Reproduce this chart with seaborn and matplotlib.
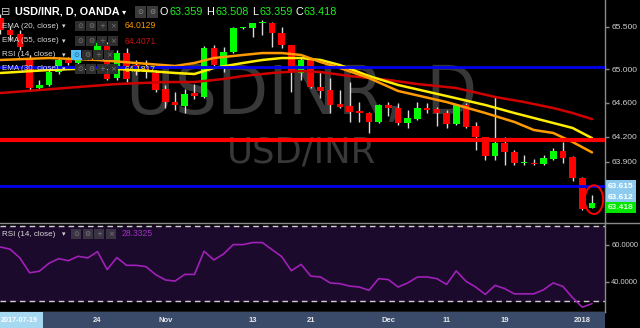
import numpy as np
import pandas as pd
import matplotlib
matplotlib.use("Agg")
import matplotlib.pyplot as plt
import matplotlib.transforms as mtransforms
from matplotlib.patches import Ellipse, Rectangle
from matplotlib.lines import Line2D
import seaborn as sns

# ---------------- data ----------------
opens = [65.604, 65.462, 65.414, 65.130, 64.775, 64.811, 64.964, 65.107, 65.071, 65.166,
         65.142, 65.296, 64.893, 65.189, 65.047, 65.012, 64.953, 64.763, 64.609, 64.562,
         64.716, 64.669, 65.249, 65.024, 65.201, 65.485, 65.485, 65.540, 65.544, 65.426,
         65.284, 64.953, 65.107, 64.787, 64.751, 64.586, 64.562, 64.503, 64.479, 64.373,
         64.574, 64.538, 64.361, 64.408, 64.538, 64.527, 64.479, 64.349, 64.574, 64.325,
         64.195, 63.970, 64.124, 64.018, 63.886, 63.888, 63.876, 63.935, 64.030, 63.959,
         63.710, 63.359]
highs = [65.651, 65.509, 65.462, 65.166, 64.870, 64.988, 65.142, 65.142, 65.225, 65.225,
         65.343, 65.320, 65.225, 65.249, 65.107, 65.107, 64.988, 64.811, 64.728, 64.763,
         64.822, 65.272, 65.284, 65.260, 65.497, 65.497, 65.550, 65.580, 65.556, 65.497,
         65.290, 65.142, 65.130, 64.964, 64.893, 64.751, 64.846, 64.609, 64.491, 64.586,
         64.609, 64.598, 64.515, 64.609, 64.598, 64.550, 64.515, 64.586, 64.598, 64.373,
         64.200, 64.680, 64.195, 64.041, 63.982, 63.935, 63.982, 64.065, 64.136, 63.970,
         63.722, 63.508]
lows = [65.414, 65.343, 65.225, 64.751, 64.763, 64.799, 64.941, 65.047, 65.047, 65.107,
        65.107, 64.870, 64.870, 64.846, 64.929, 64.893, 64.728, 64.538, 64.515, 64.479,
        64.645, 64.657, 65.024, 64.964, 65.189, 65.473, 65.379, 65.402, 65.260, 65.249,
        64.728, 64.870, 64.775, 64.657, 64.479, 64.538, 64.373, 64.373, 64.243, 64.361,
        64.444, 64.337, 64.302, 64.396, 64.479, 64.325, 64.302, 64.337, 64.302, 64.041,
        63.923, 63.923, 63.864, 63.864, 63.864, 63.864, 63.864, 63.923, 63.888, 63.675,
        63.331, 63.359]
closes = [65.462, 65.402, 65.260, 64.775, 64.811, 64.964, 65.107, 65.071, 65.166, 65.142,
          65.308, 64.882, 65.189, 64.882, 64.988, 64.964, 64.751, 64.609, 64.574, 64.704,
          64.680, 65.249, 65.047, 65.201, 65.485, 65.490, 65.544, 65.546, 65.426, 65.284,
          64.964, 65.107, 64.787, 64.740, 64.574, 64.550, 64.491, 64.479, 64.373, 64.574,
          64.538, 64.361, 64.420, 64.538, 64.515, 64.479, 64.349, 64.574, 64.314, 64.195,
          63.970, 64.124, 64.018, 63.888, 63.890, 63.876, 63.947, 64.030, 63.947, 63.710,
          63.343, 63.418]

ema_idx = [0, 5, 10, 14, 18, 20, 22, 25, 27, 29, 31, 33, 35, 38, 41, 46, 50, 53, 55, 57, 59, 61]
ema20_val = [65.107, 65.130, 65.107, 65.071, 65.036, 65.071, 65.130, 65.166, 65.189, 65.189,
             65.166, 65.083, 65.012, 64.893, 64.740, 64.609, 64.479, 64.373, 64.278, 64.243,
             64.136, 64.013]
ema30_val = [64.953, 64.988, 65.012, 64.988, 64.953, 64.941, 65.012, 65.071, 65.107, 65.130,
             65.130, 65.107, 65.047, 64.917, 64.811, 64.680, 64.574, 64.479, 64.420, 64.361,
             64.302, 64.182]
ema55_idx = [0, 4, 8, 12, 17, 20, 23, 25, 28, 31, 33, 36, 40, 43, 47, 51, 54, 57, 59, 61]
ema55_val = [64.716, 64.751, 64.787, 64.822, 64.846, 64.846, 64.882, 64.917, 64.953, 64.976,
             64.964, 64.917, 64.870, 64.822, 64.775, 64.669, 64.609, 64.538, 64.479, 64.407]
ema_labels = ["64.0129", "64.4071", "64.1817"]

rsi = [58.9, 57.7, 53.0, 45.0, 45.8, 50.1, 52.6, 51.5, 53.9, 53.0,
       56.4, 46.7, 53.2, 49.0, 49.0, 48.3, 44.0, 41.1, 40.5, 44.1,
       44.1, 56.6, 51.9, 55.1, 60.2, 60.2, 61.3, 61.3, 57.5, 53.7,
       46.1, 49.5, 43.2, 42.7, 39.5, 39.1, 37.8, 37.3, 35.5, 41.8,
       41.3, 37.3, 39.5, 42.7, 42.7, 41.8, 38.7, 46.0, 40.4, 37.3,
       33.3, 38.2, 36.4, 33.6, 33.6, 33.6, 35.8, 39.5, 37.6, 31.5,
       26.4, 28.3]
rsi_label = "28.3325"

blue_levels = [65.024, 63.615]
red_level = 64.155
price_ticks = [65.5, 65.0, 64.6, 64.2, 63.9]
rsi_ticks = [60, 40]
date_labels = ["24", "Nov", "13", "21", "Dec", "11", "19", "2018"]
date_idx = [10, 17, 26, 32, 40, 46, 52, 60]
first_date = "2017-07-19"

# ---------------- style ----------------
sns.set_theme(style="dark", rc={"axes.facecolor": "black", "figure.facecolor": "black",
                                "axes.grid": False})
plt.rcParams['font.family'] = ['Liberation Sans', 'DejaVu Sans']

W, H = 640, 328
fig = plt.figure(figsize=(6.4, 3.28), dpi=100, facecolor='black')

def fx(px):
    return px / W

def fy(py):
    return 1 - py / H

ax = fig.add_axes([0, fy(222), fx(605), 222 / H])
ax_r = fig.add_axes([0, fy(312), fx(605), 90 / H], sharex=ax)
ax_d = fig.add_axes([0, 0, fx(605), 16 / H], sharex=ax)
for a in (ax, ax_r, ax_d):
    a.set_facecolor('black')

x = np.arange(len(opens))
o = np.array(opens)
c = np.array(closes)
up = c >= o
body_colors = np.where(up, '#00ff00', '#ff0000')

# watermark
ax.text(0.498, 0.486, "USDINR, D", transform=ax.transAxes, ha='center', va='baseline',
        fontsize=48, color='#383838', family='DejaVu Sans', zorder=0)
ax.text(0.498, 0.266, "USD/INR", transform=ax.transAxes, ha='center', va='baseline',
        fontsize=25.5, color='#383838', family='DejaVu Sans', zorder=0)

# candles
ax.vlines(x, lows, highs, color='#d9d9d9', lw=1, zorder=3)
ax.bar(x, np.maximum(np.abs(c - o), 0.012), bottom=np.minimum(o, c), width=0.68,
       color=body_colors, linewidth=0, zorder=4)

# EMAs
sns.lineplot(x=ema55_idx, y=ema55_val, ax=ax, color='#d00000', lw=1.8, zorder=5, legend=False)
sns.lineplot(x=ema_idx, y=ema30_val, ax=ax, color='#ffee00', lw=1.8, zorder=5, legend=False)
sns.lineplot(x=ema_idx, y=ema20_val, ax=ax, color='#ff9a00', lw=1.8, zorder=5, legend=False)

# horizontal levels
for lv in blue_levels:
    ax.axhline(lv, color='#0000ee', lw=2, zorder=6)
ax.axhline(red_level, color='#ff0000', lw=3, zorder=6)

# highlight ellipse round the last candle
ax.add_patch(Ellipse((x[-1] + 0.2, (highs[-1] + lows[-1]) / 2 + 0.02), 1.9, 0.34,
                     fill=False, ec='#ff0000', lw=1.4, zorder=7))

ax.set_xlim(-0.05, 62.34)
ax.set_ylim(63.189, 65.817)
ax.set_xlabel('')
ax.set_ylabel('')
ax.yaxis.tick_right()
ax.set_yticks(price_ticks)
ax.set_yticklabels([f"{v:.3f}" for v in price_ticks])
ax.tick_params(axis='y', right=True, left=False, colors='#8a8a8a', labelcolor='#d0d0d0',
               labelsize=6, length=3, width=1, pad=2)
ax.tick_params(axis='x', bottom=False, labelbottom=False)
for s in ['left', 'top', 'bottom']:
    ax.spines[s].set_visible(False)
ax.spines['right'].set_color('#8a8a8a')
ax.spines['right'].set_linewidth(1)

# price tags on the axis
trans = mtransforms.blended_transform_factory(ax.transAxes, ax.transData)

def price_tag(val, dy, text, fc, tc):
    ax.annotate(text, xy=(1.0, val), xycoords=trans, xytext=(3, dy), textcoords='offset pixels',
                fontsize=6, color=tc, ha='left', va='center', fontweight='bold',
                bbox=dict(boxstyle='square,pad=0.28', fc=fc, ec='none'),
                annotation_clip=False, zorder=10)

price_tag(63.615, 0, "63.615", '#8ccaf0', 'white')
price_tag(63.612, -11, "63.612", '#8ccaf0', 'white')
price_tag(closes[-1], -5, f"{closes[-1]:.3f}", '#00e600', '#d8ffd8')

# ---------------- RSI pane ----------------
ax_r.axhspan(30, 70, color='#1c0a2c', zorder=0)
ax_r.axhline(70, color='#cfcfcf', lw=1, ls=(0, (4, 3)), zorder=1)
ax_r.axhline(30, color='#cfcfcf', lw=1, ls=(0, (4, 3)), zorder=1)
sns.lineplot(x=x, y=rsi, ax=ax_r, color='#a020b8', lw=1.2, zorder=3, legend=False)
ax_r.set_ylim(23.8, 72.4)
ax_r.set_xlabel('')
ax_r.set_ylabel('')
ax_r.yaxis.tick_right()
ax_r.set_yticks(rsi_ticks)
ax_r.set_yticklabels([f"{v:.4f}" for v in rsi_ticks])
ax_r.tick_params(axis='y', right=True, left=False, colors='#8a8a8a', labelcolor='#d0d0d0',
                 labelsize=5.4, length=3, width=1, pad=1.5)
ax_r.tick_params(axis='x', bottom=False, labelbottom=False)
for s in ['left', 'top']:
    ax_r.spines[s].set_visible(False)
for s in ['right', 'bottom']:
    ax_r.spines[s].set_color('#8a8a8a')
    ax_r.spines[s].set_linewidth(1)

# ---------------- date strip ----------------
ax_d.set_facecolor('#3a4b6a')
ax_d.set_ylim(0, 1)
for s in ax_d.spines.values():
    s.set_visible(False)
ax_d.tick_params(left=False, bottom=False, right=False, labelleft=False, labelbottom=False,
                 labelright=False)
for i, lab in zip(date_idx, date_labels):
    ax_d.text(i, 0.45, lab, ha='center', va='center', fontsize=5.5, fontweight='bold',
              color='#e6e6e6')
ax_d.add_patch(Rectangle((0, 0), 43 / 605, 1, transform=ax_d.transAxes, fc='#a6d8f2',
                         ec='none', zorder=5))
ax_d.text(19 / 605, 0.45, first_date, transform=ax_d.transAxes, ha='center', va='center',
          fontsize=5.2, fontweight='bold', color='white', zorder=6)

# separator line between panes
fig.add_artist(Line2D([0, 1], [fy(222.5), fy(222.5)], color='#8a8a8a', lw=1))

# ---------------- legend texts ----------------
def ftext(px, py, s, **kw):
    kw.setdefault('va', 'center')
    fig.text(fx(px), fy(py), s, **kw)

def icon(px, py, w, h, fc, glyph, gc):
    fig.add_artist(Rectangle((fx(px), fy(py + h / 2)), w / W, h / H, transform=fig.transFigure,
                             fc=fc, ec='none', zorder=8))
    fig.text(fx(px + w / 2), fy(py), glyph, ha='center', va='center', fontsize=5,
             color=gc, family=['DejaVu Sans'], zorder=9)

ftext(1, 12, "⊟", fontsize=8, color='#c8c8c8', family=['DejaVu Sans'])
ftext(15, 12, "USD/INR, D, OANDA", fontsize=7.8, fontweight='bold', color='white')
ftext(122, 12, "▾", fontsize=6, color='white', family=['DejaVu Sans'])
icon(135, 12, 11, 11, '#3a3a3a', '⊙', '#909090')
icon(147, 12, 11, 11, '#3a3a3a', '⚙', '#909090')
ftext(160, 12, "O", fontsize=7.8, color='white')
ftext(170, 12, f"{opens[-1]:.3f}", fontsize=7.8, color='#22ee22')
ftext(206, 12, "H", fontsize=7.8, color='white')
ftext(215, 12, f"{highs[-1]:.3f}", fontsize=7.8, color='#22ee22')
ftext(252, 12, "L", fontsize=7.8, color='white')
ftext(259, 12, f"{lows[-1]:.3f}", fontsize=7.8, color='#22ee22')
ftext(295, 12, "C", fontsize=7.8, color='white')
ftext(304, 12, f"{closes[-1]:.3f}", fontsize=7.8, color='#22ee22')

rows = [
    (26, "EMA (20, close)", ema_labels[0], '#ff9a00', False),
    (41, "EMA (55, close)", ema_labels[1], '#c81010', False),
    (55, "RSI (14, close)", None, None, True),
    (69, "EMA (30, close)", ema_labels[2], '#ffee00', False),
]
glyphs = ['⊙', '⚙', '+', '×']
for ry, name, val, vcol, is_rsi in rows:
    ftext(2, ry, name, fontsize=5.8, color='#d8d8d8')
    ftext(62, ry, "▾", fontsize=5, color='#d8d8d8', family=['DejaVu Sans'])
    for k, g in enumerate(glyphs):
        if is_rsi:
            if k == 0:
                icon(71, ry, 10, 10, '#4fc3f7', g, '#1a5a80')
            else:
                icon(71 + 11 * k, ry, 10, 10, '#2e2e2e', g, '#7a7a7a')
        else:
            icon(75 + 11 * k, ry, 10, 10, '#2e2e2e', g, '#7a7a7a')
    if val is not None:
        ftext(125, ry, val, fontsize=6.2, color=vcol)

ftext(2, 234, "RSI (14, close)", fontsize=5.8, color='#d8d8d8')
ftext(62, 234, "▾", fontsize=5, color='#d8d8d8', family=['DejaVu Sans'])
for k, g in enumerate(glyphs):
    icon(71 + 11.5 * k, 234, 10, 10, '#3a3344', g, '#7a7a7a')
ftext(122, 234, rsi_label, fontsize=6.2, color='#a030c0')

fig.savefig('out.png', dpi=100, facecolor='black')
